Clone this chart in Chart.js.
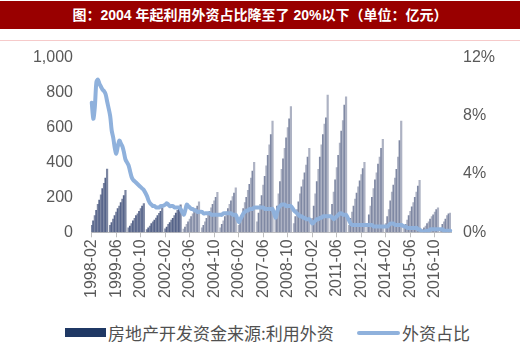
<!DOCTYPE html>
<html>
<head>
<meta charset="utf-8">
<script src="https://cdn.jsdelivr.net/npm/chart.js@4.4.1/dist/chart.umd.min.js"></script>
<style>
  html, body { margin:0; padding:0; background:#fff; width:520px; height:355px; overflow:hidden; }
  #title { position:absolute; left:0; top:1px; width:520px; height:28px; background:#990000; color:#fff;
    font: bold 14px "Liberation Sans", "Noto Sans CJK SC", sans-serif; text-align:center; line-height:28px; }
  #rule { position:absolute; left:0; top:40px; width:520px; height:1px; background:#f6caca; }
  #wrap { position:absolute; left:0; top:30px; width:520px; height:272px; }
  .leg { position:absolute; top:323px; font: 17px "Noto Sans CJK SC", sans-serif; color:#505050; line-height:20px; white-space:nowrap; }
  .sw { position:absolute; }
</style>
</head>
<body>
<div id="title">图：2004 年起利用外资占比降至了 20%以下（单位：亿元）</div>
<div id="rule"></div>
<div id="wrap"><canvas id="c" width="520" height="272"></canvas></div>
<div class="sw" style="left:65px; top:328px; width:41px; height:9px; background:#1f3864;"></div>
<div class="leg" style="left:108px;">房地产开发资金来源:利用外资</div>
<div class="sw" style="left:357px; top:331px; width:43px; height:4px; border-radius:2px; background:#8fb1dc;"></div>
<div class="leg" style="left:402px;">外资占比</div>
<script>
// Categories: monthly, 1998-02 .. 2017-08 (January values are not published -> null)
const startYear = 1998, startMonth = 2, monthCount = 235;
const categories = [];
for (let i = 0; i < monthCount; i++) {
  const t = (startMonth - 1) + i;
  const y = startYear + Math.floor(t / 12);
  const m = (t % 12) + 1;
  categories.push(y + '-' + String(m).padStart(2, '0'));
}
const labelEvery = 16;

// 房地产开发资金来源:利用外资 (亿元, year-to-date cumulative)
const foreignFunds = [
  40, 65, 95, 125, 160, 185, 215, 250, 280, 310, 362, null,   // 1998
  40, 55, 75, 95, 115, 135, 150, 170, 190, 210, 240, null,    // 1999
  25, 35, 50, 65, 80, 95, 105, 120, 135, 150, 165, null,      // 2000
  15, 25, 35, 50, 60, 70, 82, 95, 108, 120, 138, null,        // 2001
  20, 30, 45, 55, 70, 80, 95, 110, 125, 140, 157, null,       // 2002
  18, 30, 45, 60, 75, 90, 105, 120, 135, 150, 175, null,      // 2003
  25, 40, 60, 80, 100, 120, 140, 160, 180, 200, 228, null,    // 2004
  25, 45, 65, 90, 115, 135, 160, 180, 205, 225, 255, null,    // 2005
  40, 70, 100, 135, 170, 200, 240, 275, 310, 350, 400, null,  // 2006
  60, 110, 160, 210, 270, 320, 380, 440, 500, 560, 636, null, // 2007
  80, 150, 220, 290, 360, 420, 480, 540, 600, 650, 720, null, // 2008
  50, 90, 130, 175, 220, 260, 300, 340, 385, 430, 480, null,  // 2009
  80, 150, 220, 290, 360, 430, 500, 560, 620, 655, 786, null, // 2010
  90, 160, 230, 300, 370, 440, 510, 580, 640, 728, 776, null, // 2011
  40, 80, 115, 150, 190, 225, 260, 295, 330, 365, 400, null,  // 2012
  50, 100, 150, 200, 250, 300, 340, 390, 430, 480, 532, null, // 2013
  50, 90, 130, 180, 230, 270, 310, 360, 430, 525, 636, null,  // 2014
  25, 45, 70, 95, 120, 145, 170, 200, 230, 265, 297, null,    // 2015
  15, 25, 35, 50, 60, 75, 90, 100, 115, 130, 140, null,       // 2016
  20, 45, 60, 75, 95, 105, 110                                // 2017
];

// 外资占比 (%)
const foreignShare = [
  8.9, 7.8, 8.6, 10.3, 10.5, 10.2, 10.0, 9.8, 9.7, 9.5, 9.0, null, // 1998
  8.0, 7.0, 6.5, 5.8, 5.4, 5.9, 6.3, 6.1, 5.9, 5.5, 5.0, null,     // 1999
  4.6, 4.2, 3.8, 3.6, 3.5, 3.4, 3.3, 3.2, 3.1, 3.0, 2.9, null,     // 2000
  2.5, 2.2, 2.0, 1.9, 1.8, 1.8, 1.7, 1.7, 1.7, 1.8, 1.8, null,     // 2001
  1.9, 2.0, 1.9, 1.8, 1.8, 1.8, 1.7, 1.7, 1.7, 1.7, 1.6, null,     // 2002
  1.2, 1.5, 1.9, 1.8, 1.7, 1.6, 1.6, 1.5, 1.5, 1.4, 1.4, null,     // 2003
  1.4, 1.3, 1.3, 1.3, 1.3, 1.3, 1.2, 1.2, 1.2, 1.2, 1.2, null,     // 2004
  1.2, 1.2, 1.3, 1.3, 1.3, 1.3, 1.3, 1.3, 1.2, 1.2, 1.2, null,     // 2005
  0.7, 0.9, 1.1, 1.3, 1.4, 1.5, 1.5, 1.6, 1.6, 1.6, 1.7, null,     // 2006
  1.7, 1.7, 1.7, 1.7, 1.7, 1.6, 1.6, 1.6, 1.6, 1.6, 1.6, null,     // 2007
  1.0, 1.4, 1.7, 1.8, 1.9, 1.9, 1.9, 1.8, 1.8, 1.8, 1.8, null,     // 2008
  1.5, 1.4, 1.3, 1.2, 1.1, 1.1, 1.0, 1.0, 0.9, 0.9, 0.9, null,     // 2009
  0.6, 0.7, 0.8, 0.9, 0.9, 1.0, 1.0, 1.1, 1.1, 1.1, 1.1, null,     // 2010
  1.1, 1.0, 0.9, 1.0, 1.1, 1.2, 1.3, 1.3, 1.2, 1.2, 1.2, null,     // 2011
  0.8, 0.6, 0.5, 0.5, 0.5, 0.5, 0.5, 0.5, 0.5, 0.5, 0.5, null,     // 2012
  0.5, 0.5, 0.5, 0.5, 0.4, 0.4, 0.4, 0.4, 0.4, 0.4, 0.4, null,     // 2013
  0.4, 0.4, 0.5, 0.6, 0.6, 0.6, 0.5, 0.5, 0.5, 0.5, 0.5, null,     // 2014
  0.4, 0.4, 0.3, 0.3, 0.3, 0.3, 0.3, 0.3, 0.3, 0.2, 0.2, null,     // 2015
  0.0, 0.05, 0.1, 0.1, 0.1, 0.2, 0.2, 0.2, 0.2, 0.2, 0.2, null,    // 2016
  0.2, 0.2, 0.1, 0.1, 0.1, 0.1, 0.1                                // 2017
];

const leftTicks = [0, 200, 400, 600, 800, 1000];
const rightTicks = [0, 4, 8, 12];

const tickFont = { family: '"Liberation Sans", Arial, sans-serif', size: 16 };
const tickColor = '#595959';

function barColor(ctx) {
  const i = ctx.dataIndex;
  if (i < 60) return i % 2 ? '#56648a' : '#7c86a2';
  return i % 2 ? '#7f88a3' : '#adb2c3';
}

new Chart(document.getElementById('c'), {
  data: {
    labels: categories,
    datasets: [
      { type: 'line', label: '外资占比', data: foreignShare, yAxisID: 'y1', order: 0,
        borderColor: '#8fb1dc', borderWidth: 4, pointRadius: 0, tension: 0.3, spanGaps: true,
        borderCapStyle: 'round', borderJoinStyle: 'round' },
      { type: 'bar', label: '房地产开发资金来源:利用外资', data: foreignFunds, yAxisID: 'y', order: 1,
        backgroundColor: barColor, barPercentage: 1.0, categoryPercentage: 1.0 }
    ]
  },
  options: {
    responsive: false, animation: false, devicePixelRatio: 1,
    layout: { padding: { top: 6, bottom: 2, left: 0, right: 0 } },
    plugins: { legend: { display: false }, tooltip: { enabled: false } },
    scales: {
      x: {
        offset: true,
        grid: { display: true, drawOnChartArea: false, drawTicks: true, tickLength: 5, offset: false,
                color: ctx => (ctx.index % labelEvery === 0 ? '#bfbfbf' : 'rgba(0,0,0,0)') },
        border: { display: true, color: '#bfbfbf', width: 1 },
        ticks: { autoSkip: false, maxRotation: 90, minRotation: 90, padding: 2, font: tickFont, color: tickColor,
                 callback: (v, i) => (i % labelEvery === 0 ? categories[i] : '') }
      },
      y: {
        position: 'left', min: 0, max: 1000,
        afterBuildTicks: s => { s.ticks = leftTicks.map(v => ({ value: v })); },
        afterFit: s => { s.width = 91; },
        grid: { display: false, drawTicks: false }, border: { display: false },
        ticks: { padding: 18, font: tickFont, color: tickColor, callback: v => v.toLocaleString('en-US') }
      },
      y1: {
        position: 'right', min: 0, max: 12,
        afterBuildTicks: s => { s.ticks = rightTicks.map(v => ({ value: v })); },
        afterFit: s => { s.width = 69; },
        grid: { display: false, drawTicks: false }, border: { display: false },
        ticks: { padding: 12, font: tickFont, color: tickColor, callback: v => v + '%' }
      }
    }
  }
});
</script>
</body>
</html>
